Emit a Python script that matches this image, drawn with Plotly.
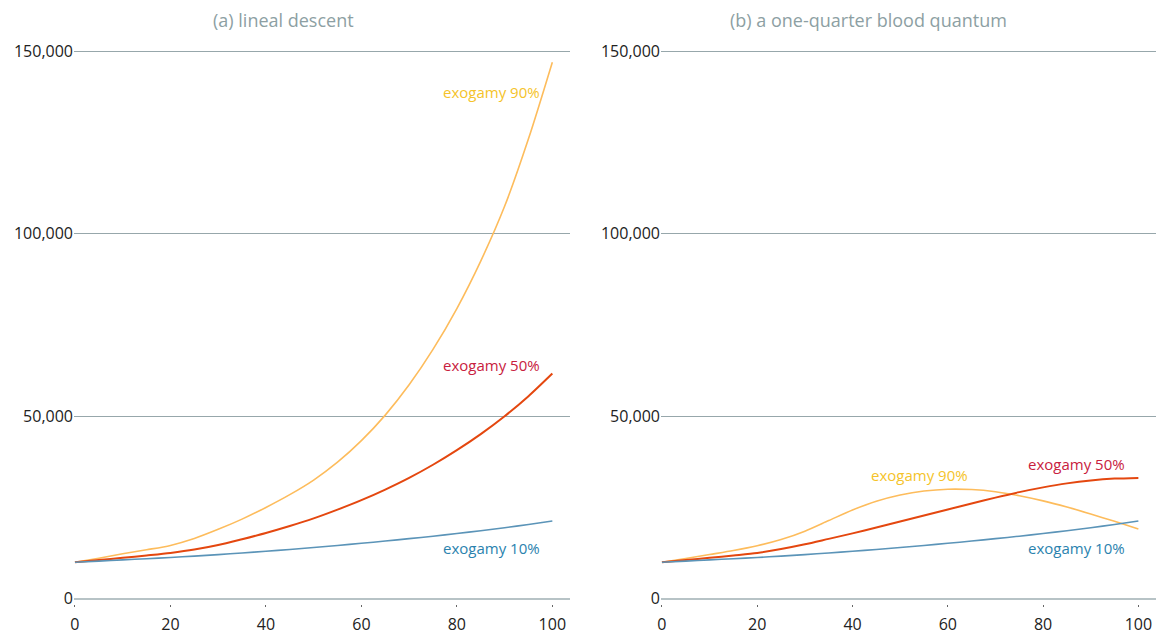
import plotly.graph_objects as go

# Generations (x) and population for three exogamy rates
years = [0, 5, 10, 15, 20, 25, 30, 35, 40, 45, 50, 55, 60, 65, 70, 75, 80, 85, 90, 95, 100]

# (a) lineal descent
lineal_90 = [10000, 11100, 12300, 13400, 14600, 16500, 19000, 21800, 25000, 28500, 32500,
             37400, 43300, 50300, 58600, 68300, 79500, 92500, 107500, 126000, 147000]
lineal_50 = [10000, 10600, 11200, 11850, 12550, 13450, 14700, 16300, 18000, 19900, 22000,
             24400, 27000, 29900, 33100, 36700, 40700, 45100, 50000, 55500, 61700]
lineal_10 = [10000, 10310, 10630, 10960, 11300, 11680, 12090, 12530, 13000, 13500, 14030,
             14590, 15180, 15800, 16450, 17130, 17850, 18620, 19440, 20330, 21300]

# (b) a one-quarter blood quantum
quantum_90 = [10000, 11000, 12100, 13200, 14500, 16200, 18500, 21400, 24300, 26700, 28400,
              29500, 30000, 29900, 29300, 28200, 26800, 25100, 23200, 21200, 19100]
quantum_50 = [10000, 10600, 11200, 11850, 12550, 13600, 14900, 16400, 17900, 19500, 21150,
              22800, 24450, 26100, 27700, 29200, 30500, 31600, 32400, 32900, 33100]
quantum_10 = lineal_10

y_ticks = [0, 50000, 100000, 150000]
x_ticks = [0, 20, 40, 60, 80, 100]
panel_titles = ["(a) lineal descent", "(b) a one-quarter blood quantum"]
series_names = ["exogamy 90%", "exogamy 50%", "exogamy 10%"]

line_colors = ["#fdbc5c", "#e4470f", "#5b94b8"]
line_widths = [1.6, 2.0, 1.6]
label_colors = ["#f5c32a", "#c8203e", "#2a82ae"]

FONT = "Open Sans"

fig = go.Figure()

panels = [
    ("x", "y", [lineal_90, lineal_50, lineal_10]),
    ("x2", "y2", [quantum_90, quantum_50, quantum_10]),
]
for xa, ya, series in panels:
    for vals, col, w, name in zip(series, line_colors, line_widths, series_names):
        fig.add_trace(go.Scatter(
            x=years, y=vals, mode="lines", name=name, xaxis=xa, yaxis=ya,
            line=dict(color=col, width=w, shape="spline", smoothing=0.8),
            showlegend=False, hoverinfo="x+y",
        ))

x_range = [-0.2, 103.7]
y_range = [-1450, 151700]

axis_x = dict(
    range=x_range, tickvals=x_ticks, showgrid=False, zeroline=False, showline=False,
    ticks="outside", ticklen=2, tickwidth=1, tickcolor="#666666", automargin=False,
    tickfont=dict(family=FONT, size=16, color="#222222"), ticklabelstandoff=4,
)
axis_y = dict(
    range=y_range, tickvals=y_ticks, tickformat=",", showgrid=True, gridcolor="#97a7ab",
    gridwidth=1, zeroline=True, zerolinecolor="#b7c3c6", zerolinewidth=2, showline=False,
    ticks="", automargin=False, tickfont=dict(family=FONT, size=16, color="#222222"),
)

fig.update_layout(
    width=1158, height=635,
    margin=dict(l=0, r=0, t=45, b=31),
    paper_bgcolor="white", plot_bgcolor="white",
    xaxis=dict(domain=[74 / 1158, 570 / 1158], anchor="y", **axis_x),
    yaxis=dict(domain=[0, 1], anchor="x", **axis_y),
    xaxis2=dict(domain=[661 / 1158, 1156 / 1158], anchor="y2", **axis_x),
    yaxis2=dict(domain=[0, 1], anchor="x2", **axis_y),
)

# Panel titles, centred over each half of the figure
for i, t in enumerate(panel_titles):
    fig.add_annotation(
        text=t, xref="paper", yref="paper", x=0.245 + i * 0.505, y=1, yshift=25,
        xanchor="center", yanchor="middle", showarrow=False,
        font=dict(family=FONT, size=18, color="#8d9fa3"),
    )

# Series labels placed next to the curves
labels = [
    ("x", "y", 97.8, 138800),
    ("x", "y", 97.8, 64000),
    ("x", "y", 97.8, 13800),
    ("x2", "y2", 64.6, 33900),
    ("x2", "y2", 97.6, 36900),
    ("x2", "y2", 97.6, 13800),
]
for k, (xa, ya, xv, yv) in enumerate(labels):
    idx = k % 3
    fig.add_annotation(
        text=series_names[idx], xref=xa, yref=ya, x=xv, y=yv,
        xanchor="right", yanchor="middle", showarrow=False,
        font=dict(family=FONT, size=15, color=label_colors[idx]),
    )

fig.write_html("out.html")
